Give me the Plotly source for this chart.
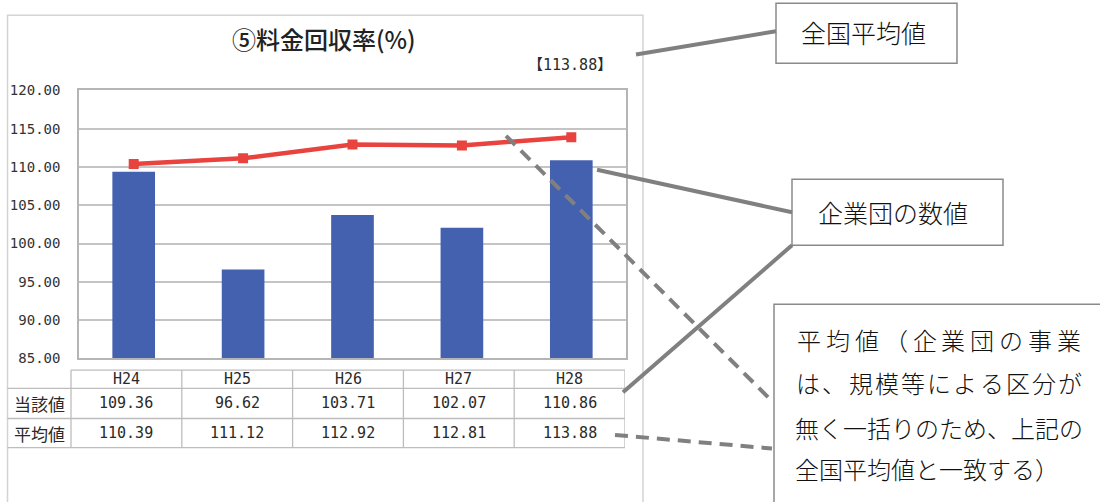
import plotly.graph_objects as go

# ---- data ----
years = ["H24", "H25", "H26", "H27", "H28"]
own_values = [109.36, 96.62, 103.71, 102.07, 110.86]      # 当該値 (bars)
avg_values = [110.39, 111.12, 112.92, 112.81, 113.88]     # 平均値 (line)
row_labels = ["当該値", "平均値"]
y_ticks = [85, 90, 95, 100, 105, 110, 115, 120]
title_text = "⑤料金回収率(%)"
callout_national = "全国平均値"
callout_group = "企業団の数値"
callout_note_lines = ["平均値（企業団の事業", "は、規模等による区分が", "無く一括りのため、上記の", "全国平均値と一致する）"]

W, H = 1100, 502


def px(x):
    return x / W


def py(y):
    return 1 - y / H


BAR = "#4461B0"
RED = "#E8433F"
GRAY = "#808080"
GRID = "#C4C4C4"
TXT = "#2A2A2A"
MONO = "DejaVu Sans Mono, Noto Sans CJK JP"
CJK = "Noto Sans CJK JP"

fig = go.Figure()
fig.add_trace(go.Bar(x=years, y=own_values, marker=dict(color=BAR, line=dict(width=0)),
                     width=0.39, hoverinfo="skip"))
fig.add_trace(go.Scatter(x=years, y=avg_values, mode="lines+markers",
                         line=dict(color=RED, width=4.5),
                         marker=dict(symbol="square", size=10, color=RED),
                         hoverinfo="skip"))
# helper invisible trace for the table axis
fig.add_trace(go.Scatter(x=years, y=[0] * len(years), xaxis="x2", yaxis="y2",
                         mode="markers", marker=dict(opacity=0), hoverinfo="skip"))

shapes = []
annotations = []

# panel border
shapes.append(dict(type="rect", xref="paper", yref="paper", x0=px(7.5), x1=px(643), y0=py(530), y1=py(7.5),
                   line=dict(color="#D4D4D4", width=1.5), layer="below"))

# title and national average tag
annotations.append(dict(text=title_text, xref="paper", yref="paper", x=px(324), y=py(32),
                        showarrow=False, xanchor="center", yanchor="middle",
                        font=dict(family=CJK, size=24, color="#222222", weight=500)))
annotations.append(dict(text=f"【{avg_values[-1]:.2f}】", xref="paper", yref="paper", x=px(614), y=py(59),
                        showarrow=False, xanchor="right", yanchor="middle",
                        font=dict(family=MONO, size=15, color=TXT)))

# ---- table ----
t_top, t_h, t_r1, t_bot = 374, 393, 424, 454
t_left, t_lab = 7.5, 71
lc = "#BDBDBD"
lw = 1.3
# horizontal lines
shapes.append(dict(type="line", xref="paper", yref="paper", x0=px(t_lab), x1=px(625), y0=py(t_top), y1=py(t_top),
                   line=dict(color=lc, width=lw)))
for yy in (t_h, t_r1, t_bot):
    shapes.append(dict(type="line", xref="paper", yref="paper", x0=px(t_left), x1=px(625), y0=py(yy), y1=py(yy),
                       line=dict(color=lc, width=lw)))
# vertical lines
shapes.append(dict(type="line", xref="paper", yref="paper", x0=px(t_lab), x1=px(t_lab), y0=py(t_top), y1=py(t_bot),
                   line=dict(color=lc, width=lw)))
for i in range(len(years)):
    shapes.append(dict(type="line", xref="x2", yref="paper", x0=i + 0.5, x1=i + 0.5, y0=py(t_top), y1=py(t_bot),
                       line=dict(color=lc, width=lw)))

for i, yr in enumerate(years):
    annotations.append(dict(text=yr, xref="x2", yref="paper", x=i, y=py((t_top + t_h) / 2),
                            showarrow=False, xanchor="center", yanchor="middle",
                            font=dict(family=MONO, size=15, color=TXT)))
    annotations.append(dict(text=f"{own_values[i]:.2f}", xref="x2", yref="paper", x=i, y=py((t_h + t_r1) / 2),
                            showarrow=False, xanchor="center", yanchor="middle",
                            font=dict(family=MONO, size=15, color=TXT)))
    annotations.append(dict(text=f"{avg_values[i]:.2f}", xref="x2", yref="paper", x=i, y=py((t_r1 + t_bot) / 2),
                            showarrow=False, xanchor="center", yanchor="middle",
                            font=dict(family=MONO, size=15, color=TXT)))
for lab, (a, b) in zip(row_labels, [(t_h, t_r1), (t_r1, t_bot)]):
    annotations.append(dict(text=lab, xref="paper", yref="paper", x=px(39), y=py((a + b) / 2),
                            showarrow=False, xanchor="center", yanchor="middle",
                            font=dict(family=CJK, size=17, color=TXT)))

# ---- callouts ----
box_line = dict(color="#8A8A8A", width=1.5)
shapes.append(dict(type="rect", xref="paper", yref="paper", x0=px(776), x1=px(957), y0=py(57), y1=py(-5),
                   line=box_line, fillcolor="white"))
shapes.append(dict(type="rect", xref="paper", yref="paper", x0=px(792), x1=px(1003), y0=py(245), y1=py(177),
                   line=box_line, fillcolor="white"))
shapes.append(dict(type="rect", xref="paper", yref="paper", x0=px(774), x1=px(1120), y0=py(530), y1=py(306),
                   line=box_line, fillcolor="white"))

conn = dict(color=GRAY, width=4)
conn_d = dict(color=GRAY, width=4, dash="13px,8px")
shapes.append(dict(type="line", xref="paper", yref="paper", x0=px(636), y0=py(48), x1=px(776), y1=py(24), line=conn))
shapes.append(dict(type="line", xref="paper", yref="paper", x0=px(597), y0=py(167), x1=px(792), y1=py(211), line=conn))
shapes.append(dict(type="line", xref="paper", yref="paper", x0=px(792), y0=py(245), x1=px(623), y1=py(397), line=conn))
shapes.append(dict(type="line", xref="paper", yref="paper", x0=px(506), y0=py(132), x1=px(772), y1=py(406), line=conn_d))
shapes.append(dict(type="line", xref="paper", yref="paper", x0=px(615), y0=py(441), x1=px(772), y1=py(455), line=conn_d))

callout_font = dict(family=CJK, size=25, color="#111111", weight=300)
annotations.append(dict(text=callout_national, xref="paper", yref="paper", x=px(863), y=py(25),
                        showarrow=False, xanchor="center", yanchor="middle", font=callout_font))
annotations.append(dict(text=callout_group, xref="paper", yref="paper", x=px(893), y=py(211),
                        showarrow=False, xanchor="center", yanchor="middle", font=callout_font))

line_y = [342, 387, 433, 476]
line_pitch = [28.8, 26.2, 24.0, 24.0]
for txt, yy, pitch in zip(callout_note_lines, line_y, line_pitch):
    for k, ch in enumerate(txt):
        annotations.append(dict(text=ch, xref="paper", yref="paper", x=px(795 + pitch * (k + 0.5)), y=py(yy),
                                showarrow=False, xanchor="center", yanchor="middle",
                                font=dict(family=CJK, size=24, color="#111111", weight=300)))

fig.update_layout(
    width=W, height=H,
    margin=dict(l=0, r=0, t=0, b=0),
    paper_bgcolor="white", plot_bgcolor="white",
    showlegend=False,
    bargap=0.6,
    xaxis=dict(domain=[px(79), px(626)], type="category", categoryarray=years,
               showticklabels=False, ticks="", showgrid=False, zeroline=False,
               showline=True, linecolor="#B5B5B5", linewidth=1.5, mirror=True, fixedrange=True),
    yaxis=dict(domain=[py(362), py(85)], range=[85, 120], tickvals=y_ticks,
               ticktext=[f"{v:.2f}" for v in y_ticks], ticks="", ticklabelstandoff=14,
               tickfont=dict(family=MONO, size=14, color="#333333"),
               showgrid=True, gridcolor=GRID, gridwidth=1.5, zeroline=False,
               showline=True, linecolor="#B5B5B5", linewidth=1.5, mirror=True, fixedrange=True),
    xaxis2=dict(domain=[px(71), px(625)], type="category", categoryarray=years, range=[-0.5, 4.5],
                anchor="y2", visible=False, fixedrange=True),
    yaxis2=dict(domain=[py(454), py(374)], range=[-1, 1], anchor="x2", visible=False, fixedrange=True),
    shapes=shapes,
    annotations=annotations,
)

fig.write_html("out.html")
